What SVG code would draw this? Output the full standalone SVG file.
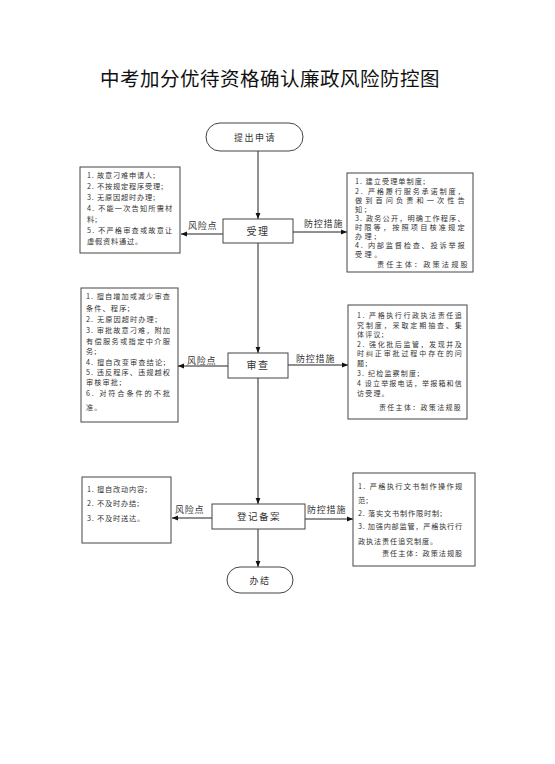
<svg xmlns="http://www.w3.org/2000/svg" width="555" height="764" viewBox="0 0 555 764">
<defs>
<marker id="ah" viewBox="0 0 10 10" refX="10" refY="5" markerWidth="6" markerHeight="6" orient="auto" markerUnits="userSpaceOnUse">
<path d="M0,1 L10,5 L0,9 z" fill="#111"/>
</marker>
<style>
text{font-family:"Noto Sans CJK SC","Noto Sans",sans-serif;fill:#333}
.title{font-size:19.5px;fill:#111;letter-spacing:0.5px}
.node{fill:#fff;stroke:#444;stroke-width:1}
.box{fill:#fff;stroke:#444;stroke-width:1}
.nl{font-size:10px;text-anchor:middle;letter-spacing:1.5px}
.lb{font-size:9px;letter-spacing:0.8px}
.t1{font-size:7.2px;letter-spacing:0.8px}
.t2{font-size:7.2px;letter-spacing:1.1px}
.r1{font-size:7.2px;letter-spacing:2.4px}
.r2{font-size:7px;letter-spacing:1.2px}
.r3{font-size:7.2px;letter-spacing:0.8px}
.ln{stroke:#222;stroke-width:1;fill:none}
</style>
</defs>
<rect width="555" height="764" fill="#fff"/>
<text class="title" x="270" y="86" text-anchor="middle">中考加分优待资格确认廉政风险防控图</text>

<g id="connectors">
<line class="ln" x1="258" y1="151" x2="258" y2="219" marker-end="url(#ah)"/>
<line class="ln" x1="258" y1="243" x2="258" y2="353" marker-end="url(#ah)"/>
<line class="ln" x1="258" y1="378" x2="258" y2="504" marker-end="url(#ah)"/>
<line class="ln" x1="258" y1="529" x2="258" y2="567" marker-end="url(#ah)"/>
<line class="ln" x1="223" y1="234" x2="181" y2="234" marker-end="url(#ah)"/>
<line class="ln" x1="293" y1="232" x2="347" y2="232" marker-end="url(#ah)"/>
<line class="ln" x1="228" y1="366" x2="178" y2="366" marker-end="url(#ah)"/>
<line class="ln" x1="288" y1="365" x2="348" y2="365" marker-end="url(#ah)"/>
<line class="ln" x1="212" y1="518" x2="172" y2="518" marker-end="url(#ah)"/>
<line class="ln" x1="305" y1="519" x2="353" y2="519" marker-end="url(#ah)"/>
<text class="lb" x="188" y="229">风险点</text>
<text class="lb" x="304" y="227">防控措施</text>
<text class="lb" x="187" y="364">风险点</text>
<text class="lb" x="296" y="362">防控措施</text>
<text class="lb" x="175" y="513">风险点</text>
<text class="lb" x="307" y="513">防控措施</text>
</g>

<g id="start">
<rect class="node" x="206" y="123" width="97" height="28" rx="14"/>
<text class="nl" x="255" y="141" style="font-size:9px">提出申请</text>
</g>

<g id="shouli">
<rect class="node" x="223" y="219" width="70" height="24"/>
<text class="nl" x="258" y="235">受理</text>
</g>

<g id="shencha">
<rect class="node" x="228" y="353" width="60" height="25"/>
<text class="nl" x="258" y="369">审查</text>
</g>

<g id="dengji">
<rect class="node" x="212" y="504" width="93" height="25"/>
<text class="nl" x="259" y="520" style="font-size:9.5px">登记备案</text>
</g>

<g id="end">
<rect class="node" x="227" y="567" width="66" height="26" rx="13"/>
<text class="nl" x="260" y="584" style="font-size:9px">办结</text>
</g>

<g id="risk1">
<rect class="box" x="80" y="167" width="100" height="86"/>
<text class="t1" x="87" y="178">1. 故意刁难申请人;</text>
<text class="t1" x="87" y="189">2. 不按规定程序受理;</text>
<text class="t1" x="87" y="200">3. 无原因超时办理;</text>
<text class="t1" x="87" y="211" textLength="86" lengthAdjust="spacing">4. 不能一次告知所需材</text>
<text class="t1" x="87" y="222">料;</text>
<text class="t1" x="87" y="233" textLength="86" lengthAdjust="spacing">5. 不严格审查或故意让</text>
<text class="t1" x="87" y="244">虚假资料通过。</text>
</g>

<g id="measure1">
<rect class="box" x="347" y="173" width="126" height="99"/>
<text class="r1" x="355" y="184" style="letter-spacing:1px">1. 建立受理单制度;</text>
<text class="r1" x="355" y="194" textLength="112" lengthAdjust="spacing">2. 严格履行服务承诺制度，</text>
<text class="r1" x="355" y="203" textLength="112" lengthAdjust="spacing">做到首问负责和一次性告</text>
<text class="r1" x="355" y="212">知;</text>
<text class="r1" x="355" y="221" textLength="112" lengthAdjust="spacing">3. 政务公开，明确工作程序、</text>
<text class="r1" x="355" y="230" textLength="112" lengthAdjust="spacing">时限等，按照项目核准规定</text>
<text class="r1" x="355" y="239">办理;</text>
<text class="r1" x="355" y="248" textLength="112" lengthAdjust="spacing">4. 内部监督检查、投诉举报</text>
<text class="r1" x="355" y="257">受理。</text>
<text class="r1" x="377" y="267" textLength="93" lengthAdjust="spacing">责任主体：政策法规股</text>
</g>

<g id="risk2">
<rect class="box" x="81" y="288" width="97" height="134"/>
<text class="t2" x="86" y="299" textLength="85" lengthAdjust="spacing">1. 擅自增加或减少审查</text>
<text class="t2" x="86" y="311">条件、程序;</text>
<text class="t2" x="86" y="322">2. 无原因超时办理;</text>
<text class="t2" x="86" y="333" textLength="85" lengthAdjust="spacing">3. 审批故意刁难，附加</text>
<text class="t2" x="86" y="344" textLength="85" lengthAdjust="spacing">有偿服务或指定中介服</text>
<text class="t2" x="86" y="354">务;</text>
<text class="t2" x="86" y="365">4. 擅自改变审查结论;</text>
<text class="t2" x="86" y="375" textLength="85" lengthAdjust="spacing">5. 违反程序、违规越权</text>
<text class="t2" x="86" y="385">审核审批;</text>
<text class="t2" x="86" y="396" textLength="85" lengthAdjust="spacing">6. 对符合条件的不批</text>
<text class="t2" x="86" y="410">准。</text>
</g>

<g id="measure2">
<rect class="box" x="348" y="305" width="119" height="114"/>
<text class="r2" x="357" y="318" textLength="106" lengthAdjust="spacing">1. 严格执行行政执法责任追</text>
<text class="r2" x="357" y="327.5" textLength="106" lengthAdjust="spacing">究制度，采取定期抽查、集</text>
<text class="r2" x="357" y="337">体评议;</text>
<text class="r2" x="357" y="346.5" textLength="106" lengthAdjust="spacing">2. 强化批后监管，发现并及</text>
<text class="r2" x="357" y="356" textLength="106" lengthAdjust="spacing">时纠正审批过程中存在的问</text>
<text class="r2" x="357" y="365.5">题;</text>
<text class="r2" x="357" y="376">3. 纪检监察制度;</text>
<text class="r2" x="357" y="386" textLength="106" lengthAdjust="spacing">4 设立举报电话，举报箱和信</text>
<text class="r2" x="357" y="396">访受理。</text>
<text class="r2" x="379" y="410" textLength="83" lengthAdjust="spacing">责任主体：政策法规股</text>
</g>

<g id="risk3">
<rect class="box" x="82" y="477" width="89" height="66"/>
<text class="t1" x="87" y="492">1. 擅自改动内容;</text>
<text class="t1" x="87" y="506">2. 不及时办结;</text>
<text class="t1" x="87" y="521">3. 不及时送达。</text>
</g>

<g id="measure3">
<rect class="box" x="353" y="473" width="122" height="93"/>
<text class="r3" x="358" y="489" textLength="105" lengthAdjust="spacing">1. 严格执行文书制作操作规</text>
<text class="r3" x="358" y="503">范;</text>
<text class="r3" x="358" y="516">2. 落实文书制作限时制;</text>
<text class="r3" x="358" y="529" textLength="105" lengthAdjust="spacing">3. 加强内部监管，严格执行行</text>
<text class="r3" x="358" y="544">政执法责任追究制度。</text>
<text class="r3" x="382" y="556" textLength="81" lengthAdjust="spacing">责任主体：政策法规股</text>
</g>
</svg>
